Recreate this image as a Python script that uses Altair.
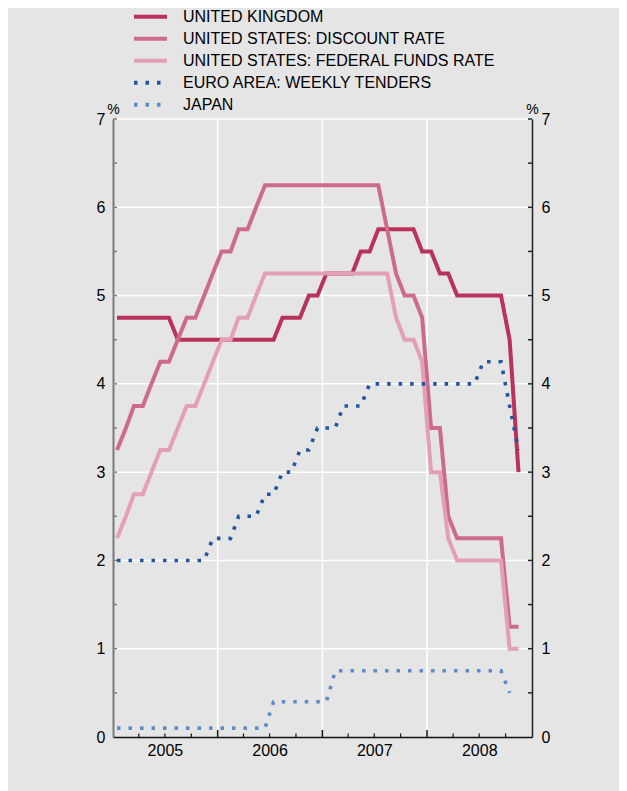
import altair as alt
import pandas as pd

# ---- data (end-of-month policy rates, %, Jan 2005 - Nov 2008) ----
months = [f"{y}-{m:02d}" for y in range(2005, 2009) for m in range(1, 13)]

series_names = [
    "UNITED KINGDOM",
    "UNITED STATES: DISCOUNT RATE",
    "UNITED STATES: FEDERAL FUNDS RATE",
    "EURO AREA: WEEKLY TENDERS",
    "JAPAN",
]

uk = [4.75, 4.75, 4.75, 4.75, 4.75, 4.75, 4.75, 4.5, 4.5, 4.5, 4.5, 4.5,
      4.5, 4.5, 4.5, 4.5, 4.5, 4.5, 4.5, 4.75, 4.75, 4.75, 5.0, 5.0,
      5.25, 5.25, 5.25, 5.25, 5.5, 5.5, 5.75, 5.75, 5.75, 5.75, 5.75, 5.5,
      5.5, 5.25, 5.25, 5.0, 5.0, 5.0, 5.0, 5.0, 5.0, 4.5, 3.0]

us_discount = [3.25, 3.5, 3.75, 3.75, 4.0, 4.25, 4.25, 4.5, 4.75, 4.75, 5.0, 5.25,
               5.5, 5.5, 5.75, 5.75, 6.0, 6.25, 6.25, 6.25, 6.25, 6.25, 6.25, 6.25,
               6.25, 6.25, 6.25, 6.25, 6.25, 6.25, 6.25, 5.75, 5.25, 5.0, 5.0, 4.75,
               3.5, 3.5, 2.5, 2.25, 2.25, 2.25, 2.25, 2.25, 2.25, 1.25, 1.25]

us_fed_funds = [2.25, 2.5, 2.75, 2.75, 3.0, 3.25, 3.25, 3.5, 3.75, 3.75, 4.0, 4.25,
                4.5, 4.5, 4.75, 4.75, 5.0, 5.25, 5.25, 5.25, 5.25, 5.25, 5.25, 5.25,
                5.25, 5.25, 5.25, 5.25, 5.25, 5.25, 5.25, 5.25, 4.75, 4.5, 4.5, 4.25,
                3.0, 3.0, 2.25, 2.0, 2.0, 2.0, 2.0, 2.0, 2.0, 1.0, 1.0]

euro = [2.0, 2.0, 2.0, 2.0, 2.0, 2.0, 2.0, 2.0, 2.0, 2.0, 2.0, 2.25,
        2.25, 2.25, 2.5, 2.5, 2.5, 2.75, 2.75, 3.0, 3.0, 3.25, 3.25, 3.5,
        3.5, 3.5, 3.75, 3.75, 3.75, 4.0, 4.0, 4.0, 4.0, 4.0, 4.0, 4.0,
        4.0, 4.0, 4.0, 4.0, 4.0, 4.0, 4.25, 4.25, 4.25, 3.75, 3.25]

japan = [0.1, 0.1, 0.1, 0.1, 0.1, 0.1, 0.1, 0.1, 0.1, 0.1, 0.1, 0.1,
         0.1, 0.1, 0.1, 0.1, 0.1, 0.1, 0.4, 0.4, 0.4, 0.4, 0.4, 0.4,
         0.4, 0.75, 0.75, 0.75, 0.75, 0.75, 0.75, 0.75, 0.75, 0.75, 0.75, 0.75,
         0.75, 0.75, 0.75, 0.75, 0.75, 0.75, 0.75, 0.75, 0.75, 0.5]

all_values = [uk, us_discount, us_fed_funds, euro, japan]

y_grid = [1, 2, 3, 4, 5, 6, 7]
y_ticks = [0.5, 1, 1.5, 2, 2.5, 3, 3.5, 4, 4.5, 5, 5.5, 6, 6.5, 7]
year_starts = ["2006-01-01", "2007-01-01", "2008-01-01"]
quarter_ticks = ["2005-04-01", "2005-07-01", "2005-10-01",
                 "2006-04-01", "2006-07-01", "2006-10-01",
                 "2007-04-01", "2007-07-01", "2007-10-01",
                 "2008-04-01", "2008-07-01", "2008-10-01"]
year_labels = [2005, 2006, 2007, 2008]

# ---- styling ----
colors = ["#b8325a", "#cd6b8b", "#e3a0b4", "#1f55a2", "#5b8cc9"]
dashes = [[1, 0], [1, 0], [1, 0], [3.5, 8], [3.5, 8]]
widths = [4, 4, 4, 3.6, 3.6]
FONT = "Liberation Sans"
W, H = 419, 618
BG = "#e5e5e5"

rows = []
for name, vals in zip(series_names, all_values):
    for m, v in zip(months, vals):
        rows.append({"series": name, "date": m + "-15", "value": v})
df = pd.DataFrame(rows)


def dt(y, m, d=1):
    return alt.DateTime(year=y, month=m, date=d, utc=True)


xscale = alt.Scale(type="utc", domain=[dt(2005, 1), dt(2009, 1)])
yscale = alt.Scale(domain=[0, 7], nice=False, zero=False)

legend = alt.Legend(
    title=None, orient="none", legendX=19, legendY=-113,
    symbolType="stroke", symbolSize=1089, symbolStrokeWidth=4,
    labelFontSize=16, labelFont=FONT, labelColor="black",
    labelOffset=14, clipHeight=21.5, rowPadding=0, padding=0,
    direction="vertical", labelLimit=500,
)
color = alt.Color("series:N", scale=alt.Scale(domain=series_names, range=colors), legend=legend)
dash = alt.StrokeDash("series:N", scale=alt.Scale(domain=series_names, range=dashes), legend=legend)

left_axis = alt.Axis(
    orient="left", values=list(range(8)), format="d", ticks=False, tickSize=0,
    labelPadding=8, labelFontSize=16, labelFont=FONT, labelColor="black",
    domain=True, domainColor="#7a7a7a", domainWidth=2, grid=False,
    title="%", titleAngle=0, titleX=0, titleY=-6, titleAlign="center",
    titleBaseline="alphabetic", titleFontSize=14, titleFont=FONT,
    titleFontWeight="normal", titleColor="black",
)
right_axis = alt.Axis(
    orient="right", values=list(range(8)), format="d", ticks=False, tickSize=0,
    labelPadding=9, labelFontSize=16, labelFont=FONT, labelColor="black",
    domain=True, domainColor="#222222", domainWidth=1.5, grid=False,
    title="%", titleAngle=0, titleX=0, titleY=-6, titleAlign="center",
    titleBaseline="alphabetic", titleFontSize=14, titleFont=FONT,
    titleFontWeight="normal", titleColor="black",
)
bottom_axis = alt.Axis(
    orient="bottom", values=[dt(y, 7) for y in year_labels], format="%Y",
    ticks=False, tickSize=0, labelPadding=5, labelFontSize=16, labelFont=FONT,
    labelColor="black", domain=True, domainColor="#111111", domainWidth=1.5,
    grid=False, title=None,
)


def X(field):
    return alt.X(field, scale=xscale, axis=bottom_axis)


hgrid = alt.Chart(pd.DataFrame({"v": y_grid})).mark_rule(
    color="white", strokeWidth=1.5
).encode(y=alt.Y("v:Q", scale=yscale, axis=left_axis))

vgrid = alt.Chart(pd.DataFrame({"d": year_starts})).mark_rule(
    color="white", strokeWidth=1.5
).encode(x=X("d:T"))

line_layers = []
for name, w in zip(series_names, widths):
    line_layers.append(
        alt.Chart(df).transform_filter(alt.datum.series == name).mark_line(
            strokeWidth=w, strokeJoin="miter"
        ).encode(
            x=X("date:T"),
            y=alt.Y("value:Q", scale=yscale, axis=None),
            color=color,
            strokeDash=dash,
        )
    )

tdf = pd.DataFrame({"h": y_ticks})
left_ticks = alt.Chart(tdf).mark_rule(color="#7a7a7a", strokeWidth=1.5).encode(
    y=alt.Y("h:Q", scale=yscale, axis=None), x=alt.value(0), x2=alt.value(4)
)
right_ticks = alt.Chart(tdf).mark_rule(color="#222222", strokeWidth=1.5).encode(
    y=alt.Y("h:Q", scale=yscale, axis=right_axis), x=alt.value(W - 4), x2=alt.value(W)
)
q_ticks = alt.Chart(pd.DataFrame({"d": quarter_ticks})).mark_rule(color="#111111", strokeWidth=1.2).encode(
    x=X("d:T"), y=alt.value(H), y2=alt.value(H - 3.5)
)
yr_ticks = alt.Chart(pd.DataFrame({"d": year_starts})).mark_rule(color="#111111", strokeWidth=1.5).encode(
    x=X("d:T"), y=alt.value(H), y2=alt.value(H - 7)
)

chart = alt.layer(
    hgrid, vgrid, *line_layers, left_ticks, right_ticks, q_ticks, yr_ticks
).resolve_axis(y="independent").properties(
    width=W, height=H,
    autosize=alt.AutoSizeParams(type="none"),
    padding={"left": 105, "top": 111, "right": 87, "bottom": 54},
    background=BG,
).configure_view(stroke=None, fill=BG).configure(font=FONT)

chart.save("out.html", embed_options={"renderer": "svg", "actions": False})
